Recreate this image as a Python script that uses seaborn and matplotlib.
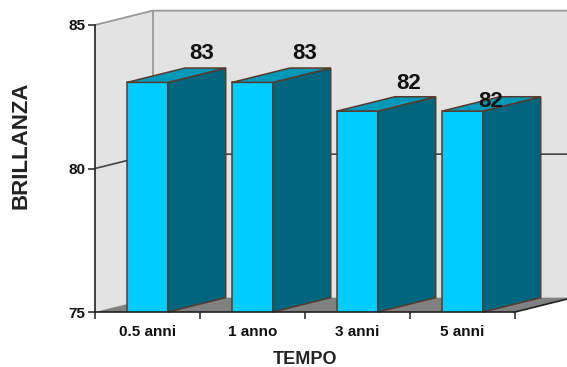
import matplotlib
matplotlib.use("Agg")
import matplotlib.pyplot as plt
from matplotlib.patches import Polygon
import pandas as pd
import seaborn as sns

tempo = ["0.5 anni", "1 anno", "3 anni", "5 anni"]
brillanza = [83, 83, 82, 82]
y_ticks = [75, 80, 85]

# depth of the fake 3d box, in data units
dx = 0.55
dy = 0.5
wall = "#e3e3e3"
floor_col = "#808080"
edge = "#5a3a28"

sns.set_theme(style="white")
plt.rcParams["font.family"] = ["Liberation Sans", "DejaVu Sans"]

df = pd.DataFrame({"tempo": tempo, "brillanza": brillanza})

W, H = 567, 367
fig = plt.figure(figsize=(W / 100, H / 100), dpi=100)
ax = fig.add_axes([95 / W, 1 - 312 / H, 420 / W, 287 / H])
ax.patch.set_visible(False)

sns.barplot(
    data=df, x="tempo", y="brillanza", color="#00ccff", saturation=1,
    width=0.39, edgecolor=edge, linewidth=1.1, ax=ax, zorder=4,
)
x0, x1 = -0.5, len(tempo) - 0.5
ax.set_xlim(x0, x1)
ax.set_ylim(y_ticks[0], y_ticks[-1])
ax.set_xlabel("")
ax.set_ylabel("")
y0, y1 = y_ticks[0], y_ticks[-1]


def poly(pts, **kws):
    ax.add_patch(Polygon(pts, closed=True, clip_on=False, **kws))


# walls and floor
poly([(x0, y0), (x0 + dx, y0 + dy), (x0 + dx, y1 + dy), (x0, y1)],
     fc=wall, ec="none", zorder=1)
poly([(x0 + dx, y0 + dy), (x1 + dx, y0 + dy), (x1 + dx, y1 + dy), (x0 + dx, y1 + dy)],
     fc=wall, ec="none", zorder=1)
poly([(x0, y0), (x1, y0), (x1 + dx, y0 + dy), (x0 + dx, y0 + dy)],
     fc=floor_col, ec="none", zorder=2)
ax.plot([x0, x0 + dx, x1 + dx], [y1, y1 + dy, y1 + dy], color="#999999", lw=1.3, clip_on=False, zorder=2)
ax.plot([x0 + dx, x0 + dx], [y0 + dy, y1 + dy], color="#999999", lw=1.3, clip_on=False, zorder=2)
ax.plot([x0, x0 + dx, x1 + dx], [80, 80 + dy, 80 + dy], color="#444444", lw=1.2, clip_on=False, zorder=2)
ax.plot([x1, x1 + dx], [y0, y0 + dy], color="#222222", lw=1.2, clip_on=False, zorder=3)

# side and top of every bar
for bar in ax.patches[:len(tempo)]:
    l, w, h = bar.get_x(), bar.get_width(), bar.get_height()
    r = l + w
    poly([(r, y0), (r + dx, y0 + dy), (r + dx, h + dy), (r, h)],
         fc="#006680", ec=edge, lw=1.1, zorder=4)
    poly([(l, h), (r, h), (r + dx, h + dy), (l + dx, h + dy)],
         fc="#0099bb", ec=edge, lw=1.1, zorder=4)

# value labels sit behind the top of each bar, the last one slips down
label_dx = [0.515, 0.495, 0.485, 0.265]
label_dy = [0.65, 0.65, 0.58, -0.03]
for i, v in enumerate(brillanza):
    ax.text(i + label_dx[i], v + label_dy[i], str(v), ha="center", va="bottom",
            fontsize=16, fontweight="bold", color="#111111", zorder=6, clip_on=False)

ax.set_yticks(y_ticks)
ax.set_xticks(range(len(tempo)))
ax.set_xticklabels(tempo)
ax.set_xticks([x0 + i for i in range(len(tempo) + 1)], minor=True)
ax.tick_params(axis="x", which="major", length=0, pad=9, labelsize=11)
ax.tick_params(axis="x", which="minor", length=5, width=1.1, color="#222222", bottom=True)
ax.tick_params(axis="y", length=5, width=1.1, color="#222222", left=True, pad=2, labelsize=11)
for lab in ax.get_xticklabels() + ax.get_yticklabels():
    lab.set_fontweight("bold")
    lab.set_color("#111111")

sns.despine(ax=ax)
for s in ["left", "bottom"]:
    ax.spines[s].set_color("#222222")
    ax.spines[s].set_linewidth(1.2)
    ax.spines[s].set_zorder(5)

fig.text(305 / W, 1 - 359 / H, "TEMPO", ha="center", va="center", fontsize=13, fontweight="bold", color="#222222")
fig.text(21 / W, 1 - 145.5 / H, "BRILLANZA", ha="center", va="center", rotation=90, fontsize=16, fontweight="bold", color="#222222")

fig.savefig("out.png", dpi=100)
